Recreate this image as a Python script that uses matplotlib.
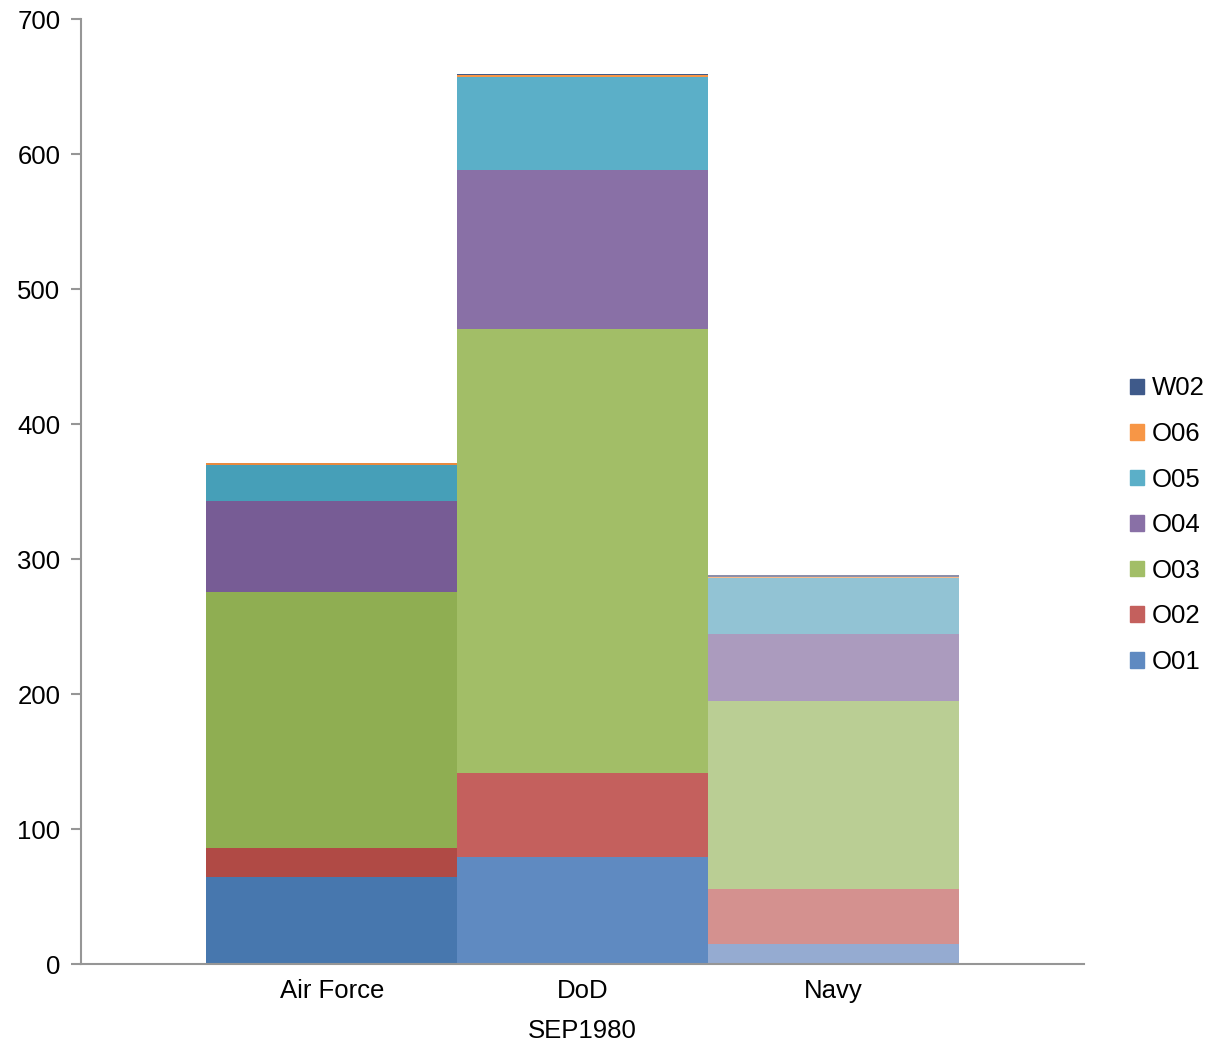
import numpy as np
import matplotlib.pyplot as plt

plt.rcParams['font.family'] = ['Liberation Sans', 'DejaVu Sans']

categories = ['Air Force', 'DoD', 'Navy']
grades = ['O01', 'O02', 'O03', 'O04', 'O05', 'O06', 'W02']

# values per grade, one entry per category
o01 = [64.4, 79.3, 14.8]
o02 = [21.5, 62.2, 40.8]
o03 = [189.7, 328.9, 139.2]
o04 = [67.4, 117.6, 49.6]
o05 = [26.6, 69.0, 41.6]
o06 = [1.5, 1.5, 0.6]
w02 = [0.0, 1.2, 1.3]
series = [o01, o02, o03, o04, o05, o06, w02]

# colours: Air Force darker, DoD base, Navy lighter
colors = {
    'Air Force': ['#4777AE', '#B04A45', '#8FAE52', '#775C95', '#469FB8', '#E88A3F', '#3A5580'],
    'DoD':       ['#5F8AC1', '#C4605D', '#A2BE67', '#8970A6', '#5BAFC8', '#F79646', '#3F5A8A'],
    'Navy':      ['#95ABD1', '#D4918F', '#BACE94', '#AB9BBE', '#92C3D4', '#F9BB8B', '#8C8FAA'],
}
legend_colors = colors['DoD']

fig = plt.figure(figsize=(12.11, 10.44), dpi=100)
ax = fig.add_axes([0.067, 0.0766, 0.828, 0.905])

x = np.arange(len(categories))
bottom = np.zeros(len(categories))
for gi, vals in enumerate(series):
    cols = [colors[c][gi] for c in categories]
    ax.bar(x, vals, width=1.0, bottom=bottom, color=cols, linewidth=0)
    bottom += np.array(vals)

fs = 18.5
ax.set_xlim(-1, 3)
ax.set_ylim(0, 700)
ax.set_yticks(range(0, 701, 100))
ax.set_xticks(x)
ax.set_xticklabels(categories)
ax.set_xlabel('SEP1980', fontsize=fs, labelpad=11)

for s in ['top', 'right']:
    ax.spines[s].set_visible(False)
for s in ['left', 'bottom']:
    ax.spines[s].set_color('#969696')
    ax.spines[s].set_linewidth(1.5)
ax.tick_params(axis='y', length=7, color='#969696', width=1.5, labelsize=fs, pad=8)
ax.tick_params(axis='x', length=0, labelsize=fs, pad=11)

handles = [plt.Rectangle((0, 0), 1, 1, color=legend_colors[i]) for i in range(len(grades))]
leg = fig.legend(handles[::-1], grades[::-1], loc='center left', bbox_to_anchor=(0.933, 0.497),
                 frameon=False, fontsize=fs, handlelength=0.55, handleheight=0.55,
                 handletextpad=0.3, labelspacing=0.84, borderpad=0, borderaxespad=0)

fig.savefig('out.png', dpi=100)
